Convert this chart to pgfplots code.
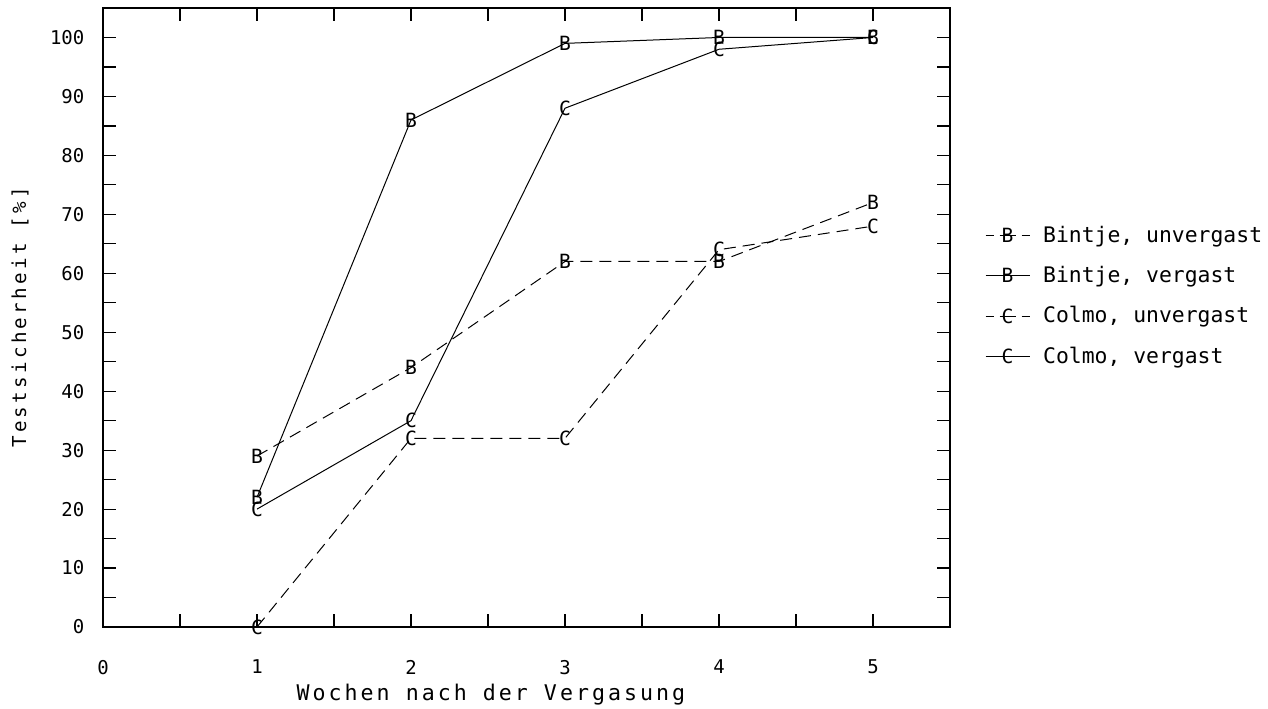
\documentclass[border=0pt]{standalone}
\usepackage{fontspec}
\setmainfont{DejaVu Sans Mono}
\usepackage{pgfplots}
\usepackage{pgfplotstable}
\pgfplotsset{compat=1.18}

% Testsicherheit in % je Woche nach der Vergasung
\pgfplotstableread{
x y
1 29
2 44
3 62
4 62
5 72
}\bintjeU
\pgfplotstableread{
x y
1 22
2 86
3 99
4 100
5 100
}\bintjeV
\pgfplotstableread{
x y
1 0
2 32
3 32
4 64
5 68
}\colmoU
\pgfplotstableread{
x y
1 20
2 35
3 88
4 98
5 100
}\colmoV

\newcommand{\markfont}{\fontsize{9.8}{9.8}\selectfont}

\begin{document}
\begin{tikzpicture}
\useasboundingbox (-51.5pt,-40.5pt) rectangle (582.5pt,313.5pt);
\begin{axis}[
  at={(0pt,0pt)}, anchor=south west,
  scale only axis, width=423.5pt, height=309.5pt,
  xmin=0, xmax=5.5, ymin=0, ymax=105,
  xtick={0,...,5}, ytick={0,10,...,100},
  minor x tick num=1, minor y tick num=1,
  tick align=inside,
  major tick length=6.5pt, minor tick length=6.5pt,
  tick style={black, line width=0.6pt},
  axis line style={line width=0.7pt},
  /pgf/number format/assume math mode=true,
  ticklabel style={font=\fontsize{9.5}{11}\selectfont},
  yticklabel style={xshift=-5.8pt},
  xticklabel style={yshift=-13pt},
  xlabel={Wochen nach der Vergasung},
  xlabel style={at={(axis description cs:0.458,-0.118)}, anchor=base,
    font=\fontsize{10.8}{12}\selectfont\addfontfeatures{LetterSpace=14}},
  ylabel={Testsicherheit [\%]},
  ylabel style={at={(axis description cs:-0.098,0.5)}, anchor=center,
    font=\fontsize{9.6}{10}\selectfont\addfontfeatures{LetterSpace=17}},
  legend style={at={(rel axis cs:1.041,0.655)}, anchor=north west,
    draw=none, fill=none, inner sep=0pt, row sep=6.5pt, column sep=4.5pt,
    font=\fontsize{10.7}{12}\selectfont, nodes={inner sep=2pt}},
  legend cell align=left,
  legend image code/.code={
    \draw[mark repeat=2, mark phase=2]
      plot coordinates {(0pt,0pt) (11pt,0pt) (22pt,0pt)};},
  every axis plot/.append style={black, line width=0.5pt},
]
\addplot[dash pattern=on 6pt off 3.5pt, mark=text, text mark={\markfont B},
  mark options={solid},
  legend image post style={dash pattern=on 4pt off 3pt on 8pt off 3pt on 4pt off 0.01pt}]
  table {\bintjeU};
\addlegendentry{Bintje, unvergast}
\addplot[solid, mark=text, text mark={\markfont B}] table {\bintjeV};
\addlegendentry{Bintje, vergast}
\addplot[dash pattern=on 6pt off 3.5pt, mark=text, text mark={\markfont C},
  mark options={solid},
  legend image post style={dash pattern=on 4pt off 3pt on 8pt off 3pt on 4pt off 0.01pt}]
  table {\colmoU};
\addlegendentry{Colmo, unvergast}
\addplot[solid, mark=text, text mark={\markfont C}] table {\colmoV};
\addlegendentry{Colmo, vergast}
\end{axis}
\end{tikzpicture}
\end{document}
